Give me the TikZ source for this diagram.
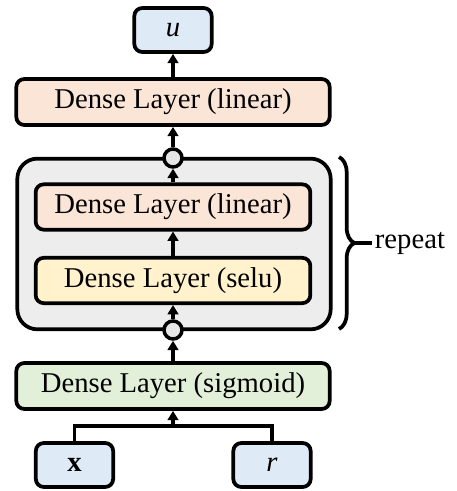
\documentclass[tikz,border=0pt]{standalone}
\usepackage{fontspec}
\setmainfont{Liberation Serif}
\usetikzlibrary{arrows.meta,decorations.pathreplacing}
\definecolor{ioblue}{HTML}{DEEBF7}
\definecolor{linorange}{HTML}{FBE5D6}
\definecolor{seluyellow}{HTML}{FFF2CC}
\definecolor{siggreen}{HTML}{E2F0D9}
\definecolor{blockgray}{HTML}{EDEDED}
\begin{document}
\begin{tikzpicture}[x=0.75pt,y=0.75pt,
  box/.style={draw,line width=2.8pt,rounded corners=6pt,inner sep=0pt,font=\fontsize{21.5}{26}\selectfont},
  layer/.style={box,minimum width=235pt,minimum height=34.5pt},
  inlayer/.style={box,minimum width=206pt,minimum height=34pt},
  io/.style={box,fill=ioblue,minimum width=58pt,minimum height=33pt},
  junc/.style={circle,draw,line width=2.6pt,fill=blockgray!97!black,minimum size=13.5pt,inner sep=0pt},
  link/.style={line width=2.6pt,-{Triangle[width=8pt,length=7pt]}}]
  \useasboundingbox (0,0) rectangle (456,491);
  \node[draw,line width=2.8pt,rounded corners=15pt,fill=blockgray,minimum width=235pt,minimum height=128pt] (rep) at (174,247) {};
  \node[io] (out) at (173,461) {\textit{u}};
  \node[layer,fill=linorange] (top) at (173,389) {Dense Layer (linear)};
  \node[inlayer,fill=linorange] (lin) at (173,284) {Dense Layer (linear)};
  \node[inlayer,fill=seluyellow] (selu) at (173,210.5) {Dense Layer (selu)};
  \node[layer,fill=siggreen] (sig) at (173,105) {Dense Layer (sigmoid)};
  \node[io] (xin) at (74.5,26) {\textbf{x}};
  \node[io] (rin) at (272,26) {\textit{r}};
  \node[junc] (cup) at (173,333) {};
  \node[junc] (cdown) at (173,161) {};
  \coordinate (jn) at (173,65);
  \draw[link] (top) -- (out);
  \draw[link] (cup) -- (top);
  \draw[link] (lin) -- (cup);
  \draw[link] (selu) -- (lin);
  \draw[link] (cdown) -- (selu);
  \draw[link] (sig) -- (cdown);
  \draw[line width=2.6pt] (xin.north) |- (jn) -| (rin.north);
  \draw[link] (jn) -- (sig);
  \draw[line width=2.8pt,decorate,decoration={brace,amplitude=11.5pt}] (339,334) -- (339,162);
  \coordinate (tip) at (354,248);
  \node[anchor=west,inner sep=2pt,font=\fontsize{21.5}{26}\selectfont] (rpt) at (372,248) {repeat};
  \draw[line width=2.6pt] (tip) -- (rpt.west);
\end{tikzpicture}
\end{document}
